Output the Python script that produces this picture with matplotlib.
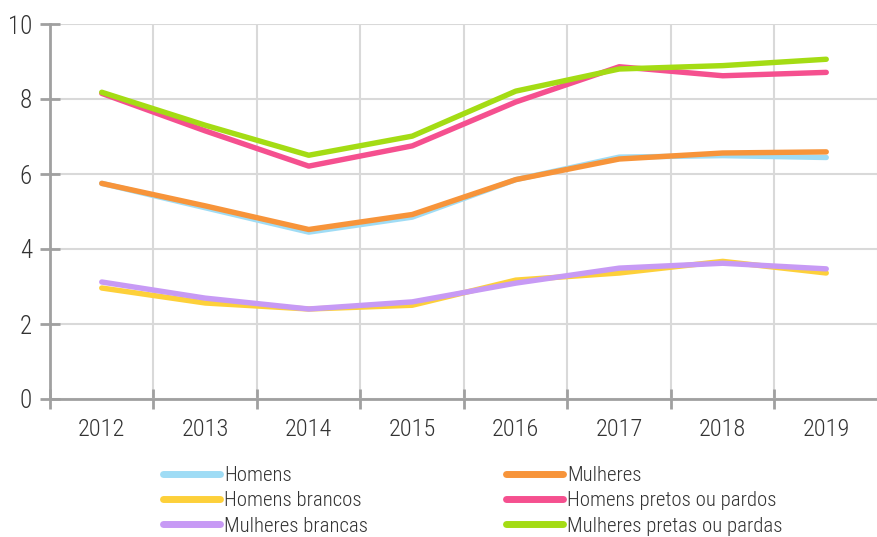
import numpy as np
import matplotlib
matplotlib.use('Agg')
import matplotlib.pyplot as plt

plt.rcParams['font.family'] = ['Roboto Condensed', 'Roboto', 'DejaVu Sans']
plt.rcParams['font.weight'] = 'light'

anos = ['2012', '2013', '2014', '2015', '2016', '2017', '2018', '2019']

homens = [5.75, 5.10, 4.45, 4.85, 5.85, 6.45, 6.49, 6.44]
mulheres = [5.75, 5.15, 4.52, 4.92, 5.85, 6.40, 6.56, 6.59]
homens_brancos = [2.96, 2.56, 2.40, 2.50, 3.17, 3.36, 3.67, 3.36]
homens_pretos = [8.15, 7.15, 6.21, 6.75, 7.92, 8.86, 8.62, 8.71]
mulheres_brancas = [3.12, 2.69, 2.40, 2.59, 3.09, 3.49, 3.62, 3.47]
mulheres_pretas = [8.18, 7.30, 6.50, 7.01, 8.21, 8.80, 8.89, 9.06]

series = [
    ('Homens', homens, '#9fdcf5'),
    ('Mulheres', mulheres, '#f7943a'),
    ('Homens brancos', homens_brancos, '#fdd03a'),
    ('Homens pretos ou pardos', homens_pretos, '#f5508f'),
    ('Mulheres brancas', mulheres_brancas, '#c79af5'),
    ('Mulheres pretas ou pardas', mulheres_pretas, '#a4dc14'),
]

W, H = 878, 537
fig = plt.figure(figsize=(W / 100, H / 100), dpi=100)
ax = fig.add_axes([50 / W, 1 - 399 / H, 1 - 50 / W, 375 / H])

x = np.arange(len(anos))
lines = {}
for nome, vals, cor in series:
    ln, = ax.plot(x, vals, color=cor, lw=3.9, solid_capstyle='round',
                  solid_joinstyle='round', label=nome)
    lines[nome] = ln

ax.set_xlim(-0.5, 7.46)
ax.set_ylim(0, 10)
ax.set_yticks([0, 2, 4, 6, 8, 10])
ax.set_xticks(x)
ax.set_xticklabels(anos)
ax.set_xticks(np.arange(-0.5, 8, 1), minor=True)

ax.grid(True, axis='y', color='#d9d9d9', lw=1.5)
ax.grid(True, axis='x', which='minor', color='#d9d9d9', lw=1.5)
ax.set_axisbelow(True)

for s in ['top', 'right']:
    ax.spines[s].set_visible(False)
for s in ['left', 'bottom']:
    ax.spines[s].set_color('#a0a0a0')
    ax.spines[s].set_linewidth(2)

ax.tick_params(axis='y', direction='inout', length=14, width=2, color='#a0a0a0',
               labelsize=18, labelcolor='#333333', pad=6)
ax.tick_params(axis='x', which='major', length=0, labelsize=17.5,
               labelcolor='#333333', pad=14)
ax.tick_params(axis='x', which='minor', direction='inout', length=14, width=2,
               color='#a0a0a0')

ordem = ['Homens', 'Homens brancos', 'Mulheres brancas',
         'Mulheres', 'Homens pretos ou pardos', 'Mulheres pretas ou pardas']
leg = fig.legend([lines[n] for n in ordem], ordem, ncol=2, frameon=False,
                 loc='upper left', bbox_to_anchor=(163 / W, 1 - 466 / H),
                 borderpad=0, borderaxespad=0, fontsize=15, handlelength=2.75,
                 handletextpad=0.2, labelspacing=0.3, columnspacing=6.6,
                 labelcolor='#333333')
for h in leg.legend_handles:
    h.set_linewidth(5)

fig.savefig('out.png', dpi=100)
